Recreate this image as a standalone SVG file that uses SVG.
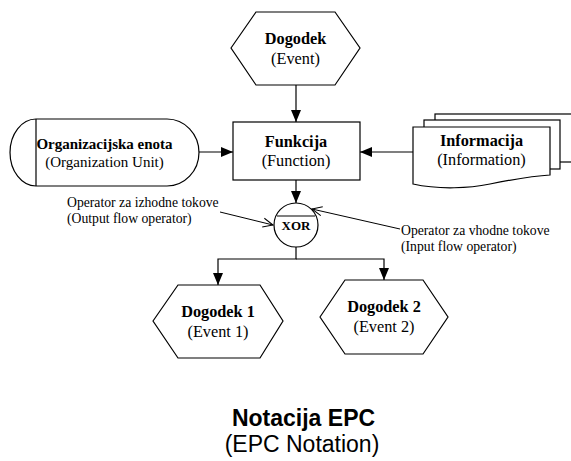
<svg xmlns="http://www.w3.org/2000/svg" width="571" height="461" viewBox="0 0 571 461">
<style>
.shape{fill:#fff;stroke:#000;stroke-width:1.2}
.line{fill:none;stroke:#000;stroke-width:1.2}
.thin{fill:none;stroke:#000;stroke-width:1}
.tb{font-family:"Liberation Serif","Times New Roman",serif;font-weight:bold;font-size:16.3px;text-anchor:middle;fill:#000}
.tr{font-family:"Liberation Serif","Times New Roman",serif;font-size:16.3px;text-anchor:middle;fill:#000}
.ann{font-family:"Liberation Serif","Times New Roman",serif;font-size:13.7px;fill:#000}
.title{font-family:"Liberation Sans",Arial,sans-serif;font-size:23px;text-anchor:middle;fill:#000}
</style>
<defs>
<marker id="arr" markerUnits="userSpaceOnUse" markerWidth="12" markerHeight="10" refX="12" refY="5" orient="auto">
<path d="M0,0 L12,5 L0,10 Z" fill="#000"/>
</marker>
<marker id="open" markerUnits="userSpaceOnUse" markerWidth="11" markerHeight="10" refX="10" refY="5" orient="auto" overflow="visible">
<path d="M0,0.5 L10,5 L0,9.5" fill="none" stroke="#000" stroke-width="1"/>
</marker>
</defs>

<g id="connectors">
<line class="line" x1="296" y1="85" x2="296" y2="122" marker-end="url(#arr)"/>
<line class="line" x1="199" y1="152" x2="233" y2="152" marker-end="url(#arr)"/>
<line class="line" x1="413" y1="152" x2="360" y2="152" marker-end="url(#arr)"/>
<line class="line" x1="296" y1="180" x2="296" y2="203" marker-end="url(#arr)"/>
<polyline class="line" points="296,247 296,259 218,259 218,285" marker-end="url(#arr)"/>
<polyline class="line" points="296,259 384,259 384,280" marker-end="url(#arr)"/>
<line class="thin" x1="220" y1="212" x2="273" y2="225" marker-end="url(#open)"/>
<line class="thin" x1="400" y1="229" x2="312" y2="209" marker-end="url(#open)"/>
</g>

<g id="event">
<polygon class="shape" points="231,48 256,12 335,12 360,48 335,85 256,85"/>
<text class="tb" x="295.5" y="44">Dogodek</text>
<text class="tr" x="295.5" y="64">(Event)</text>
</g>

<g id="function">
<rect class="shape" x="233" y="122" width="127" height="58"/>
<text class="tb" x="296" y="147">Funkcija</text>
<text class="tr" x="296" y="166">(Function)</text>
</g>

<g id="org-unit">
<path class="shape" d="M36,119 H167 A32,33.5 0 0 1 167,186 H36 A26,33.5 0 0 1 36,119 Z"/>
<line class="line" x1="36" y1="119" x2="36" y2="186"/>
<text class="tb" x="104.5" y="149" style="font-size:15px">Organizacijska enota</text>
<text class="tr" x="104.5" y="167" style="font-size:15px">(Organization Unit)</text>
</g>

<g id="information">
<rect class="shape" x="435" y="114" width="150" height="48"/>
<rect class="shape" x="424" y="120" width="136" height="49"/>
<path class="shape" d="M413,127 H550 V175 C530,176 510,180 490,184 C470,188 440,190 413,184 Z"/>
<text class="tb" x="481.5" y="146">Informacija</text>
<text class="tr" x="481.5" y="165">(Information)</text>
</g>

<g id="xor">
<circle class="shape" cx="296" cy="225" r="22"/>
<line class="line" x1="277" y1="216" x2="315" y2="216"/>
<text class="tb" x="296" y="230" style="font-size:13px">XOR</text>
</g>

<g id="event1">
<polygon class="shape" points="153,321 178,285 260,285 283,321 260,358 178,358"/>
<text class="tb" x="218" y="317">Dogodek 1</text>
<text class="tr" x="218" y="337">(Event 1)</text>
</g>

<g id="event2">
<polygon class="shape" points="320,317 345,280 423,280 448,317 423,354 345,354"/>
<text class="tb" x="384" y="312">Dogodek 2</text>
<text class="tr" x="384" y="332">(Event 2)</text>
</g>

<g id="annotations">
<text class="ann" x="67" y="207">Operator za izhodne tokove</text>
<text class="ann" x="67" y="223">(Output flow operator)</text>
<text class="ann" x="401" y="235">Operator za vhodne tokove</text>
<text class="ann" x="401" y="251">(Input flow operator)</text>
</g>

<g id="title">
<text class="title" x="303.5" y="426" style="font-weight:bold">Notacija EPC</text>
<text class="title" x="302" y="452">(EPC Notation)</text>
</g>
</svg>
